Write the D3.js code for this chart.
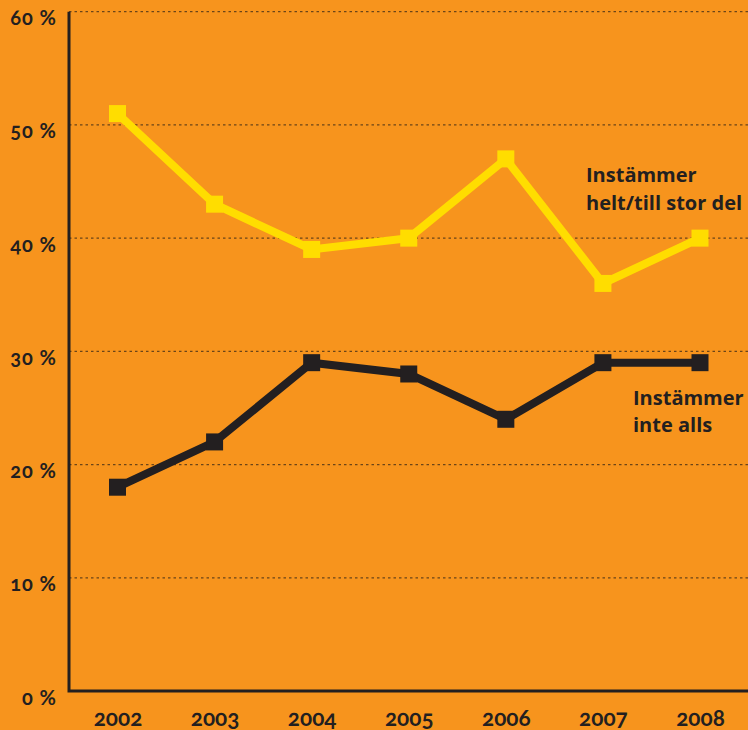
<!DOCTYPE html>
<meta charset="utf-8">
<style>
  body { margin: 0; background: #f7941d; }
  svg { display: block; }
  .tick text { font-family: Lato, "Open Sans", sans-serif; font-weight: 700; fill: #231f20; font-variant-numeric: oldstyle-nums; }
  .lbl { font-family: "Open Sans", "Noto Sans", sans-serif; font-weight: 700; fill: #231f20; font-size: 20px; }
</style>
<svg width="748" height="730"></svg>
<script src="https://d3js.org/d3.v7.min.js"></script>
<script>
// data
var years = [2002, 2003, 2004, 2005, 2006, 2007, 2008];
var agree = [51, 43, 39, 40, 47, 36, 40];      // instämmer helt/till stor del
var disagree = [18, 22, 29, 28, 24, 29, 29];   // instämmer inte alls
var yTicks = [0, 10, 20, 30, 40, 50, 60];

var svg = d3.select("svg");

var x = d3.scalePoint().domain(years).range([117.5, 700]);
var y = d3.scaleLinear().domain([0, 60]).range([691, 11.7]);

// gridlines
svg.append("g")
  .selectAll("line")
  .data(yTicks.filter(function(d) { return d > 0; }))
  .enter().append("line")
    .attr("x1", 69).attr("x2", 748)
    .attr("y1", function(d) { return y(d); })
    .attr("y2", function(d) { return y(d); })
    .attr("stroke", "#6b4418")
    .attr("stroke-width", 1.3)
    .attr("stroke-dasharray", "2.5,3");

// y tick labels
var yAxis = svg.append("g")
  .attr("transform", "translate(57,0)")
  .call(d3.axisLeft(y).tickValues(yTicks).tickSize(0).tickPadding(0)
    .tickFormat(function(d) { return d + " %"; }));
yAxis.select(".domain").remove();
yAxis.selectAll("text")
  .attr("font-size", "20px")
  .attr("letter-spacing", "1px")
  .attr("dy", 0)
  .attr("y", 13);

// x tick labels
var xAxis = svg.append("g")
  .attr("transform", "translate(0,726)")
  .call(d3.axisBottom(x).tickSize(0).tickPadding(0).tickFormat(d3.format("d")));
xAxis.select(".domain").remove();
xAxis.selectAll("text")
  .attr("font-size", "22.5px")
  .attr("dy", 0)
  .attr("y", 0);

// axis lines
svg.append("path")
  .attr("d", "M69,11.7V691H748")
  .attr("fill", "none")
  .attr("stroke", "#231f20")
  .attr("stroke-width", 3);

function drawSeries(values, color) {
  var line = d3.line()
    .x(function(d, i) { return x(years[i]); })
    .y(function(d) { return y(d); });
  svg.append("path")
    .datum(values)
    .attr("d", line)
    .attr("fill", "none")
    .attr("stroke", color)
    .attr("stroke-width", 8)
    .attr("stroke-linejoin", "miter");
  svg.append("g")
    .selectAll("rect")
    .data(values)
    .enter().append("rect")
      .attr("x", function(d, i) { return x(years[i]) - 8.5; })
      .attr("y", function(d) { return y(d) - 8.5; })
      .attr("width", 17)
      .attr("height", 17)
      .attr("fill", color);
}

drawSeries(agree, "#ffdd00");
drawSeries(disagree, "#231f20");

// series labels
var l1 = svg.append("text").attr("class", "lbl").attr("x", 586).attr("y", 182);
l1.append("tspan").attr("x", 586).text("Instämmer");
l1.append("tspan").attr("x", 586).attr("dy", 28).text("helt/till stor del");

var l2 = svg.append("text").attr("class", "lbl").attr("x", 633).attr("y", 405);
l2.append("tspan").attr("x", 633).text("Instämmer");
l2.append("tspan").attr("x", 633).attr("dy", 27).text("inte alls");
</script>
